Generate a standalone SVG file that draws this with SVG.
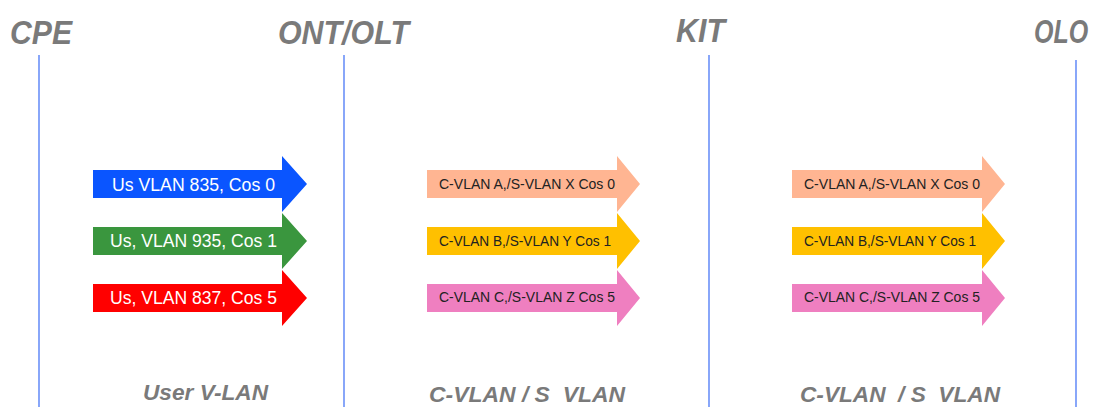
<svg xmlns="http://www.w3.org/2000/svg" width="1101" height="407" viewBox="0 0 1101 407">
<style>
.hdr{font-family:"Liberation Sans",Arial,sans-serif;font-weight:bold;font-style:italic;fill:#7a7a7a;font-size:33px}
.ftr{font-family:"Liberation Sans",Arial,sans-serif;font-weight:bold;font-style:italic;fill:#7a7a7a;font-size:22px}
.lane{stroke:#3a6cf5;stroke-width:1.2;fill:none}
.wt{font-family:"Liberation Sans",Arial,sans-serif;font-size:18px;fill:#ffffff}
.dk{font-family:"Liberation Sans",Arial,sans-serif;font-size:14px;fill:#222222}
</style>
<rect width="1101" height="407" fill="#ffffff"/>
<g id="lanes">
<line class="lane" x1="39" y1="55" x2="39" y2="407"/>
<line class="lane" x1="344" y1="55" x2="344" y2="407"/>
<line class="lane" x1="709" y1="55" x2="709" y2="407"/>
<line class="lane" x1="1076" y1="60" x2="1076" y2="407"/>
</g>
<g id="headers">
<text class="hdr" x="10" y="44" textLength="62" lengthAdjust="spacingAndGlyphs">CPE</text>
<text class="hdr" x="278" y="44" textLength="131" lengthAdjust="spacingAndGlyphs">ONT/OLT</text>
<text class="hdr" x="676" y="42" textLength="49" lengthAdjust="spacingAndGlyphs">KIT</text>
<text class="hdr" style="font-size:25px" transform="translate(1034,43) scale(1,1.3)" x="0" y="0">OLO</text>
</g>
<g id="footers">
<text class="ftr" x="143" y="400" textLength="125" lengthAdjust="spacingAndGlyphs">User V-LAN</text>
<text class="ftr" x="429" y="402" textLength="196" lengthAdjust="spacingAndGlyphs" xml:space="preserve">C-VLAN / S  VLAN</text>
<text class="ftr" x="800" y="402" textLength="200" lengthAdjust="spacingAndGlyphs" xml:space="preserve">C-VLAN  / S  VLAN</text>
</g>
<g id="connectors"/>
<g id="user-835">
<polygon fill="#0a55ff" points="93,170 282,170 282,156 307,184 282,212 282,198 93,198"/>
<text class="wt" x="112" y="191" textLength="163" lengthAdjust="spacingAndGlyphs">Us VLAN 835, Cos 0</text>
</g>
<g id="user-935">
<polygon fill="#3a963e" points="93,227 282,227 282,213 307,241 282,269 282,255 93,255"/>
<text class="wt" x="110" y="247" textLength="167" lengthAdjust="spacingAndGlyphs">Us, VLAN 935, Cos 1</text>
</g>
<g id="user-837">
<polygon fill="#ff0000" points="93,284 282,284 282,270 307,298 282,326 282,312 93,312"/>
<text class="wt" x="110" y="304" textLength="167" lengthAdjust="spacingAndGlyphs">Us, VLAN 837, Cos 5</text>
</g>
<g id="ont-a">
<polygon fill="#ffb592" points="427,170 617,170 617,156 640,184 617,212 617,198 427,198"/>
<text class="dk" x="439" y="189" textLength="176" lengthAdjust="spacingAndGlyphs">C-VLAN A,/S-VLAN X Cos 0</text>
</g>
<g id="ont-b">
<polygon fill="#ffc000" points="427,227 617,227 617,213 640,241 617,269 617,255 427,255"/>
<text class="dk" x="439" y="246" textLength="172" lengthAdjust="spacingAndGlyphs">C-VLAN B,/S-VLAN Y Cos 1</text>
</g>
<g id="ont-c">
<polygon fill="#ef7fc0" points="427,284 617,284 617,270 640,298 617,326 617,312 427,312"/>
<text class="dk" x="439" y="302" textLength="176" lengthAdjust="spacingAndGlyphs">C-VLAN C,/S-VLAN Z Cos 5</text>
</g>
<g id="kit-a">
<polygon fill="#ffb592" points="792,170 982,170 982,156 1005,184 982,212 982,198 792,198"/>
<text class="dk" x="804" y="189" textLength="176" lengthAdjust="spacingAndGlyphs">C-VLAN A,/S-VLAN X Cos 0</text>
</g>
<g id="kit-b">
<polygon fill="#ffc000" points="792,227 982,227 982,213 1005,241 982,269 982,255 792,255"/>
<text class="dk" x="804" y="246" textLength="172" lengthAdjust="spacingAndGlyphs">C-VLAN B,/S-VLAN Y Cos 1</text>
</g>
<g id="kit-c">
<polygon fill="#ef7fc0" points="792,284 982,284 982,270 1005,298 982,326 982,312 792,312"/>
<text class="dk" x="804" y="302" textLength="176" lengthAdjust="spacingAndGlyphs">C-VLAN C,/S-VLAN Z Cos 5</text>
</g>
</svg>
